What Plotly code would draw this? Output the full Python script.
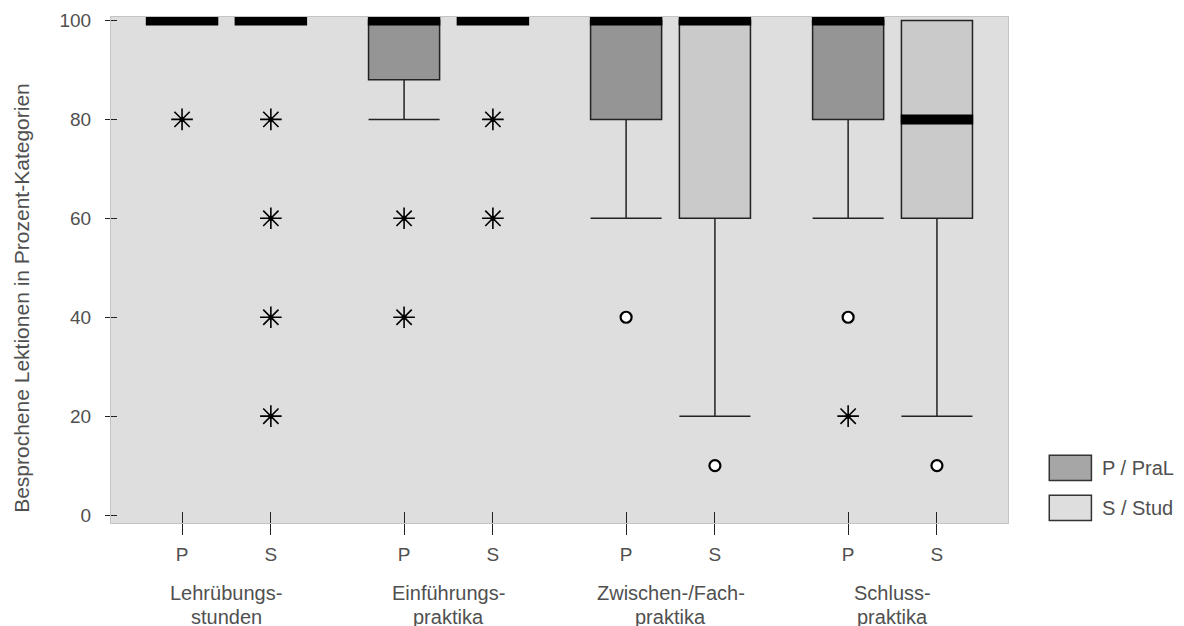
import plotly.graph_objects as go

# ---------------- data ----------------
group_line1 = ["Lehrübungs-", "Einführungs-", "Zwischen-/Fach-", "Schluss-"]
group_line2 = ["stunden", "praktika", "praktika", "praktika"]
pos_P = [0.0, 2.5, 5.0, 7.5]
pos_S = [1.0, 3.5, 6.0, 8.5]

# P / PraL box statistics
P_q1 = [100, 88, 80, 80]
P_med = [100, 100, 100, 100]
P_q3 = [100, 100, 100, 100]
P_low = [100, 80, 60, 60]
P_high = [100, 100, 100, 100]

# S / Stud box statistics
S_q1 = [100, 100, 60, 60]
S_med = [100, 100, 100, 80]
S_q3 = [100, 100, 100, 100]
S_low = [100, 100, 20, 20]
S_high = [100, 100, 100, 100]

# extreme values (stars) and outliers (circles): (group index, series, value)
star_group = [0, 0, 0, 0, 0, 1, 1, 1, 1, 3]
star_series = ["P", "S", "S", "S", "S", "P", "P", "S", "S", "P"]
star_value = [80, 80, 60, 40, 20, 60, 40, 80, 60, 20]

circ_group = [2, 2, 3, 3]
circ_series = ["P", "S", "P", "S"]
circ_value = [40, 10, 40, 10]

y_ticks = [0, 20, 40, 60, 80, 100]
y_title = "Besprochene Lektionen in Prozent-Kategorien"
legend_labels = ["P / PraL", "S / Stud"]

# ---------------- styling ----------------
FONT = "Liberation Sans"
TXT = "#505050"
P_FILL = "#959595"
S_FILL = "#cacaca"
LINE = "#222222"
BOXW = 0.80

def xpos(g, s):
    return pos_P[g] if s == "P" else pos_S[g]

fig = go.Figure()

for name, pos, q1, med, q3, lo, hi, fill in [
    ("P", pos_P, P_q1, P_med, P_q3, P_low, P_high, P_FILL),
    ("S", pos_S, S_q1, S_med, S_q3, S_low, S_high, S_FILL),
]:
    fig.add_trace(go.Box(
        x=pos, q1=q1, median=med, q3=q3, lowerfence=lo, upperfence=hi,
        width=BOXW, whiskerwidth=1.0, fillcolor=fill,
        line=dict(color=LINE, width=1.5), boxpoints=False,
        showlegend=False, hoverinfo="skip",
    ))
    # thick median bars
    mx, my = [], []
    for p, m in zip(pos, med):
        mx += [p - BOXW * 0.51, p + BOXW * 0.51, None]
        my += [m, m, None]
    fig.add_trace(go.Scatter(x=mx, y=my, mode="lines",
                             line=dict(color="black", width=10),
                             showlegend=False, hoverinfo="skip"))

sx = [xpos(g, s) for g, s in zip(star_group, star_series)]
fig.add_trace(go.Scatter(x=sx, y=star_value, mode="markers",
                         marker=dict(symbol="asterisk-open", size=18, color="black",
                                     line=dict(color="black", width=1.6)),
                         showlegend=False, hoverinfo="skip"))
fig.add_trace(go.Scatter(x=sx, y=star_value, mode="markers",
                         marker=dict(symbol="circle", size=5, color="black"),
                         showlegend=False, hoverinfo="skip"))

cx = [xpos(g, s) for g, s in zip(circ_group, circ_series)]
fig.add_trace(go.Scatter(x=cx, y=circ_value, mode="markers",
                         marker=dict(symbol="circle", size=11, color="white",
                                     line=dict(color="black", width=2.2)),
                         showlegend=False, hoverinfo="skip"))

# invisible trace for overlay axes (inner tick halves)
fig.add_trace(go.Scatter(x=[pos_P[0]], y=[50], xaxis="x2", yaxis="y2",
                         mode="markers", marker=dict(opacity=0),
                         showlegend=False, hoverinfo="skip"))

xr = [-0.8, 9.3]
yr = [-1.6, 100.7]
all_pos = [v for pair in zip(pos_P, pos_S) for v in pair]
all_txt = ["P", "S"] * len(pos_P)

fig.update_layout(
    width=1184, height=626,
    margin=dict(l=103, r=184, t=9, b=111, autoexpand=False),
    paper_bgcolor="white", plot_bgcolor="#dedede",
    boxmode="overlay",
    font=dict(family=FONT, color=TXT, size=20),
    xaxis=dict(range=xr, tickvals=all_pos, ticktext=all_txt, automargin=False,
               ticks="outside", ticklen=11, tickwidth=1.3, tickcolor="#222",
               showgrid=False, zeroline=False, showline=True, linecolor="#c4c4c4",
               mirror=True, tickfont=dict(size=19, family=FONT, color=TXT),
               ticklabelstandoff=3),
    yaxis=dict(range=yr, tickvals=y_ticks, ticks="outside", ticklen=5, automargin=False,
               tickwidth=1.3, tickcolor="#222",
               showgrid=False, zeroline=False, showline=True, linecolor="#c4c4c4",
               mirror=True, tickfont=dict(size=19, family=FONT, color=TXT),
               ticklabelstandoff=10),
    xaxis2=dict(range=xr, overlaying="x", anchor="y2", side="bottom", automargin=False,
                tickvals=all_pos, showticklabels=False, ticks="inside",
                ticklen=11, tickwidth=1.3, tickcolor="#222",
                showgrid=False, zeroline=False, showline=False),
    yaxis2=dict(range=yr, overlaying="y", anchor="x2", side="left", automargin=False,
                tickvals=y_ticks, showticklabels=False, ticks="inside",
                ticklen=6, tickwidth=1.3, tickcolor="#222",
                showgrid=False, zeroline=False, showline=False),
)

# y-axis title
fig.add_annotation(x=-0.0992, y=0.445, xref="paper", yref="paper", text=y_title,
                   textangle=-90, showarrow=False, xanchor="center", yanchor="middle",
                   font=dict(size=21, family=FONT, color=TXT))

for g in range(len(group_line1)):
    xc = (pos_P[g] + pos_S[g]) / 2
    for txt, yy in [(group_line1[g], -0.138), (group_line2[g], -0.186)]:
        fig.add_annotation(x=xc, y=yy, xref="x", yref="paper",
                           text=txt, showarrow=False, yanchor="middle",
                           font=dict(size=20, family=FONT, color=TXT))

# legend swatches
for i, (lab, fill) in enumerate(zip(legend_labels, ["#a6a6a6", "#dedede"])):
    y0 = 0.134 - i * 0.079
    fig.add_shape(type="rect", xref="paper", yref="paper",
                  x0=1.046, x1=1.093, y0=y0 - 0.050, y1=y0,
                  fillcolor=fill, line=dict(color="#333", width=1.5))
    fig.add_annotation(x=1.103, y=y0 - 0.025, xref="paper", yref="paper",
                       text=lab, showarrow=False, xanchor="left", yanchor="middle",
                       font=dict(size=20, family=FONT, color=TXT))

fig.write_html("out.html")
